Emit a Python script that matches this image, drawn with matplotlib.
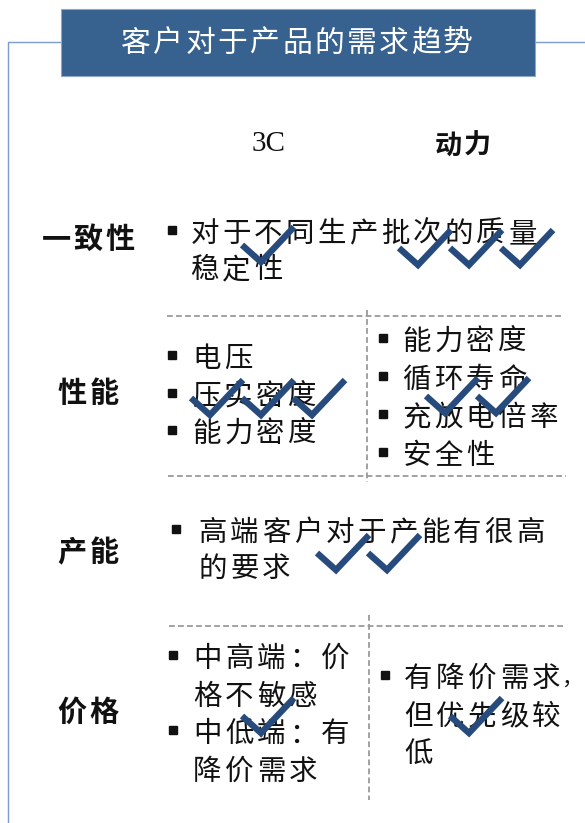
import matplotlib
matplotlib.use("Agg")
import matplotlib.pyplot as plt
from matplotlib.patches import Rectangle

plt.rcParams["font.family"] = ["Noto Sans CJK SC", "DejaVu Sans"]

# ---- content ----
title = "客户对于产品的需求趋势"
columns = ["3C", "动力"]
rows = ["一致性", "性能", "产能", "价格"]

consistency_text = [["对于不同生产批次的质量", "稳定性"]]
perf_3c = [["电压"], ["压实密度"], ["能力密度"]]
perf_power = [["能力密度"], ["循环寿命"], ["充放电倍率"], ["安全性"]]
capacity_text = [["高端客户对于产能有很高", "的要求"]]
price_3c = [["中高端：价", "格不敏感"], ["中低端：有", "降价需求"]]
price_power = [["有降价需求，", "但优先级较", "低"]]

# number of ticks per cell (产能 row is one merged cell)
checks_3c = [1, 3, 2, 1]
checks_power = [3, 2, 0, 1]

# ---- layout (pixel coords) ----
W, H = 585, 823
BOX = "#37618f"
LINE = "#7d9cd0"
CHECK = "#264b7c"
DASH = "#9a9a9a"
TXT = "#111111"
PITCH = 31.8
BODY_SIZE = 20.5

row_y = [239, 393, 552, 712]
row_label_x = 88

# cell: (items, bullet_x, text_x, first_line_y, line_step)
cells = [
    (consistency_text, 172, 191, 234, 36),
    (perf_3c, 171.5, 193, 359, 37.5),
    (perf_power, 382.5, 403, 342, 38),
    (capacity_text, 176, 199, 533, 36),
    (price_3c, 172.5, 194, 659, 37.7),
    (price_power, 384.5, 405, 679, 38),
]

# tick anchors: (vertex x, vertex y) of first tick in each cell
check_anchor_3c = [(261, 262), (210, 415), (336, 570), (261, 733)]
check_anchor_power = [(418, 265), (445, 413), None, (469, 733)]
CHECK_STEP = 51


def put_chars(ax, x_left, y, s, pitch=PITCH, size=BODY_SIZE, weight="normal", color=TXT):
    em = size * 100 / 72
    for i, ch in enumerate(s):
        cx = x_left + 13.5 + i * pitch
        if ch == "，" and i == len(s) - 1:
            # trailing comma: smaller box tucked right after the previous glyph
            ax.text(cx - pitch + em / 2 + 1, y, ch, fontsize=size * 0.75, weight=weight,
                    color=color, ha="left", va="center", zorder=3)
            continue
        ax.text(cx, y, ch, fontsize=size, weight=weight,
                color=color, ha="center", va="center", zorder=3)


def draw_check(ax, xv, yv):
    ax.plot([xv - 19, xv, xv + 33], [yv - 17, yv, yv - 35], color=CHECK, lw=4.6,
            solid_joinstyle="miter", solid_capstyle="butt", zorder=5)


def dashed(ax, xs, ys):
    ax.plot(xs, ys, color=DASH, lw=1.3, dashes=(3.2, 1.8), zorder=1)


fig = plt.figure(figsize=(W / 100, H / 100), dpi=100)
ax = fig.add_axes([0, 0, 1, 1])
ax.set_xlim(0, W)
ax.set_ylim(H, 0)
ax.axis("off")

# bracket frame
ax.plot([8, 8, 61], [H, 42, 42], color=LINE, lw=1.0, zorder=1)
ax.plot([535, W], [42, 42], color=LINE, lw=1.0, zorder=1)

# title box
ax.add_patch(Rectangle((61, 8.5), 474, 67.5, fc=BOX, ec="#8ea6c8", lw=0.8, zorder=2))
tp = 32.2
for i, ch in enumerate(title):
    ax.text(297 + (i - (len(title) - 1) / 2) * tp, 43, ch, fontsize=21.5, color="white",
            ha="center", va="center", zorder=3)

# column headers
ax.text(269, 144, columns[0], fontsize=21, family="Liberation Serif", color=TXT,
        ha="center", va="center")
put_chars(ax, 435, 146, columns[1], pitch=29, size=19.5, weight="bold")

# row labels
for label, y in zip(rows, row_y):
    n = len(label)
    put_chars(ax, row_label_x - 13.5 - (n - 1) * 32 / 2, y, label, pitch=32, size=21,
              weight="bold")

# dashed grid
dashed(ax, [167, 563], [316, 316])
dashed(ax, [168, 566], [476, 476])
dashed(ax, [169, 566], [626, 626])
dashed(ax, [367, 367], [310, 482])
dashed(ax, [369, 369], [615, 800])

# bullet text
for items, bx, tx, y0, step in cells:
    y = y0
    for item in items:
        ax.plot(bx, y - 4, marker="s", ms=5.2, color=TXT, zorder=3)
        for line in item:
            put_chars(ax, tx, y, line)
            y += step

# ticks
for n, anchor in zip(checks_3c, check_anchor_3c):
    for k in range(n):
        draw_check(ax, anchor[0] + k * CHECK_STEP, anchor[1])
for n, anchor in zip(checks_power, check_anchor_power):
    if anchor is None:
        continue
    for k in range(n):
        draw_check(ax, anchor[0] + k * CHECK_STEP, anchor[1])

fig.savefig("out.png", dpi=100)
plt.close(fig)
